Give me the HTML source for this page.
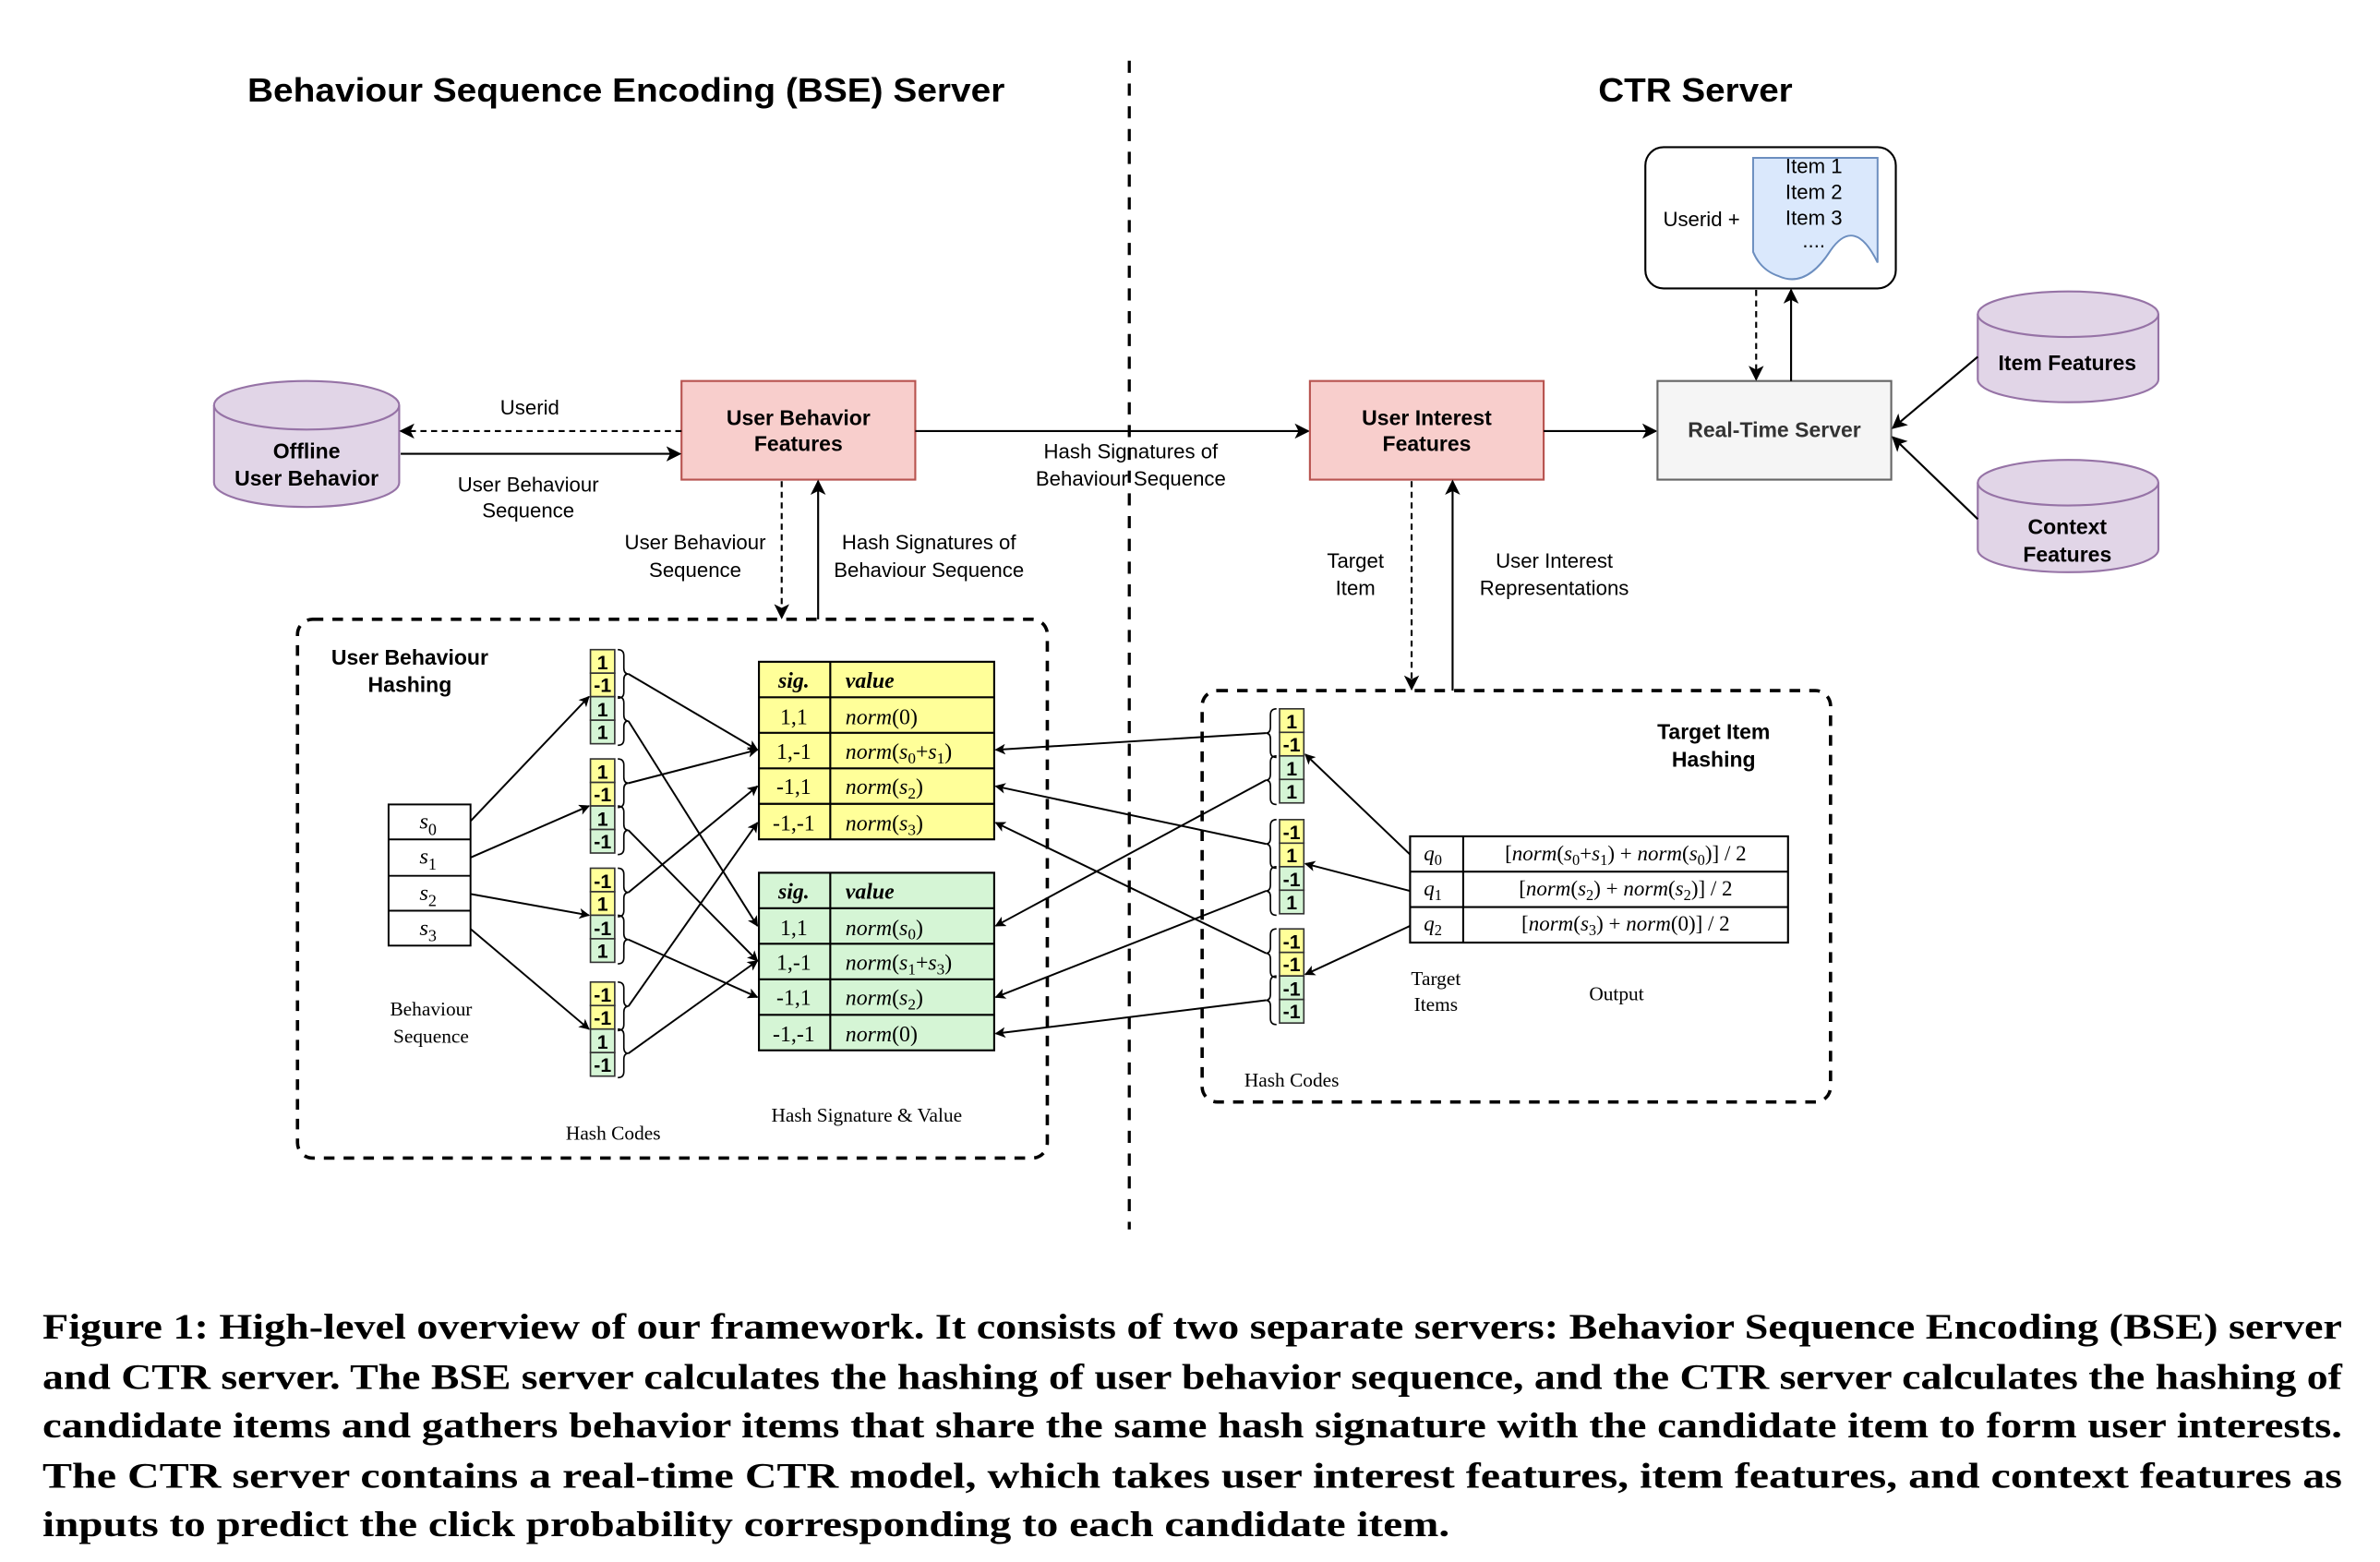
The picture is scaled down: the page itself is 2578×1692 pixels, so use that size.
<!DOCTYPE html>
<html><head><meta charset="utf-8"><style>html,body{margin:0;padding:0;background:#fff}svg{display:block}</style></head>
<body>
<svg width="2578" height="1692" viewBox="0 0 1568 1029.1" xmlns="http://www.w3.org/2000/svg" font-family="Liberation Sans, sans-serif">
<defs>
<marker id="a" viewBox="0 0 10 10" refX="9" refY="5" markerWidth="7" markerHeight="7" orient="auto" markerUnits="userSpaceOnUse"><path d="M0,0 L10,5 L0,10 L2.5,5 Z" fill="#000"/></marker>
<marker id="b" viewBox="0 0 10 10" refX="9" refY="5" markerWidth="10" markerHeight="10" orient="auto" markerUnits="userSpaceOnUse"><path d="M0,0 L10,5 L0,10 L2.5,5 Z" fill="#000"/></marker>
</defs>
<rect width="1568" height="1030" fill="#fff"/>

<!-- titles -->
<text x="163" y="67" font-size="22" font-weight="bold" textLength="499" lengthAdjust="spacingAndGlyphs">Behaviour Sequence Encoding (BSE) Server</text>
<text x="1053" y="67" font-size="22" font-weight="bold" textLength="128" lengthAdjust="spacingAndGlyphs">CTR Server</text>
<line x1="744" y1="40" x2="744" y2="810" stroke="#000" stroke-width="2" stroke-dasharray="8,7"/>

<!-- Offline cylinder -->
<path d="M141,267 A61,16 0 0 1 263,267 L263,318 A61,16 0 0 1 141,318 Z" fill="#e1d5e7" stroke="#9673a6" stroke-width="1.3"/>
<path d="M141,267 A61,16 0 0 0 263,267" fill="none" stroke="#9673a6" stroke-width="1.3"/>
<text x="202" y="302" font-size="14" font-weight="bold" text-anchor="middle">Offline</text>
<text x="202" y="320" font-size="14" font-weight="bold" text-anchor="middle">User Behavior</text>

<!-- UBF box -->
<rect x="449" y="251" width="154" height="65" fill="#f8cecc" stroke="#b85450" stroke-width="1.3"/>
<text x="526" y="280" font-size="14" font-weight="bold" text-anchor="middle">User Behavior</text>
<text x="526" y="297" font-size="14" font-weight="bold" text-anchor="middle">Features</text>

<line x1="449" y1="284" x2="264" y2="284" stroke="#000" stroke-width="1.3" stroke-dasharray="4,3" marker-end="url(#b)"/>
<text x="349" y="273" font-size="13.5" text-anchor="middle">Userid</text>
<line x1="264" y1="299" x2="448" y2="299" stroke="#000" stroke-width="1.3" marker-end="url(#b)"/>
<text x="348" y="324" font-size="13.5" text-anchor="middle">User Behaviour</text>
<text x="348" y="341" font-size="13.5" text-anchor="middle">Sequence</text>

<line x1="603" y1="284" x2="862" y2="284" stroke="#000" stroke-width="1.3" marker-end="url(#b)"/>
<text x="745" y="302" font-size="13.5" text-anchor="middle">Hash Signatures of</text>
<text x="745" y="320" font-size="13.5" text-anchor="middle">Behaviour Sequence</text>

<line x1="515" y1="317" x2="515" y2="407" stroke="#000" stroke-width="1.3" stroke-dasharray="4,3" marker-end="url(#b)"/>
<line x1="539" y1="408" x2="539" y2="317" stroke="#000" stroke-width="1.3" marker-end="url(#b)"/>
<text x="458" y="362" font-size="13.5" text-anchor="middle">User Behaviour</text>
<text x="458" y="380" font-size="13.5" text-anchor="middle">Sequence</text>
<text x="612" y="362" font-size="13.5" text-anchor="middle">Hash Signatures of</text>
<text x="612" y="380" font-size="13.5" text-anchor="middle">Behaviour Sequence</text>

<!-- left dashed box -->
<rect x="196" y="408" width="494" height="355" rx="10" fill="none" stroke="#000" stroke-width="2.2" stroke-dasharray="7,6"/>
<text x="270" y="438" font-size="14" font-weight="bold" text-anchor="middle">User Behaviour</text>
<text x="270" y="456" font-size="14" font-weight="bold" text-anchor="middle">Hashing</text>

<!-- behaviour seq -->
<g font-family="Liberation Serif, serif" font-size="15" font-style="italic" text-anchor="middle">
<rect x="256" y="530" width="54" height="93" fill="#fff" stroke="#000" stroke-width="1.2"/>
<line x1="256" y1="553" x2="310" y2="553" stroke="#000" stroke-width="1.2"/>
<line x1="256" y1="577" x2="310" y2="577" stroke="#000" stroke-width="1.2"/>
<line x1="256" y1="600" x2="310" y2="600" stroke="#000" stroke-width="1.2"/>
<text x="282" y="546">s<tspan font-style="normal" font-size="11" dy="4">0</tspan></text>
<text x="282" y="569">s<tspan font-style="normal" font-size="11" dy="4">1</tspan></text>
<text x="282" y="593">s<tspan font-style="normal" font-size="11" dy="4">2</tspan></text>
<text x="282" y="616">s<tspan font-style="normal" font-size="11" dy="4">3</tspan></text>
</g>
<g font-family="Liberation Serif, serif" font-size="13" text-anchor="middle">
<text x="284" y="669">Behaviour</text>
<text x="284" y="687">Sequence</text>
<text x="404" y="751">Hash Codes</text>
<text x="571" y="739">Hash Signature &amp; Value</text>
<text x="851" y="716">Hash Codes</text>
<text x="946" y="649">Target</text>
<text x="946" y="666">Items</text>
<text x="1065" y="659">Output</text>
</g>

<!-- hash code columns: left -->
<g font-size="13" text-anchor="middle" stroke-width="1" font-weight="bold">
<rect x="389" y="428" width="16" height="15.5" fill="#ffff99" stroke="#333"/><text x="397" y="441">1</text>
<rect x="389" y="443.5" width="16" height="15.5" fill="#ffff99" stroke="#333"/><text x="397" y="456">-1</text>
<rect x="389" y="459" width="16" height="15.5" fill="#d5f5d5" stroke="#333"/><text x="397" y="472">1</text>
<rect x="389" y="474.5" width="16" height="15.5" fill="#d5f5d5" stroke="#333"/><text x="397" y="487">1</text>
<rect x="389" y="500" width="16" height="15.5" fill="#ffff99" stroke="#333"/><text x="397" y="513">1</text>
<rect x="389" y="515.5" width="16" height="15.5" fill="#ffff99" stroke="#333"/><text x="397" y="528">-1</text>
<rect x="389" y="531" width="16" height="15.5" fill="#d5f5d5" stroke="#333"/><text x="397" y="544">1</text>
<rect x="389" y="546.5" width="16" height="15.5" fill="#d5f5d5" stroke="#333"/><text x="397" y="559">-1</text>
<rect x="389" y="572" width="16" height="15.5" fill="#ffff99" stroke="#333"/><text x="397" y="585">-1</text>
<rect x="389" y="587.5" width="16" height="15.5" fill="#ffff99" stroke="#333"/><text x="397" y="600">1</text>
<rect x="389" y="603" width="16" height="15.5" fill="#d5f5d5" stroke="#333"/><text x="397" y="616">-1</text>
<rect x="389" y="618.5" width="16" height="15.5" fill="#d5f5d5" stroke="#333"/><text x="397" y="631">1</text>
<rect x="389" y="647" width="16" height="15.5" fill="#ffff99" stroke="#333"/><text x="397" y="660">-1</text>
<rect x="389" y="662.5" width="16" height="15.5" fill="#ffff99" stroke="#333"/><text x="397" y="675">-1</text>
<rect x="389" y="678" width="16" height="15.5" fill="#d5f5d5" stroke="#333"/><text x="397" y="691">1</text>
<rect x="389" y="693.5" width="16" height="15.5" fill="#d5f5d5" stroke="#333"/><text x="397" y="706">-1</text>
</g>
<g fill="none" stroke="#000" stroke-width="1">
<path d="M407,428 q4,0 4,4 v8 q0,4 3,4 q-3,0 -3,4 v8 q0,4 -4,4"/>
<path d="M407,459 q4,0 4,4 v8 q0,4 3,4 q-3,0 -3,4 v8 q0,4 -4,4"/>
<path d="M407,500 q4,0 4,4 v8 q0,4 3,4 q-3,0 -3,4 v8 q0,4 -4,4"/>
<path d="M407,531 q4,0 4,4 v8 q0,4 3,4 q-3,0 -3,4 v8 q0,4 -4,4"/>
<path d="M407,572 q4,0 4,4 v8 q0,4 3,4 q-3,0 -3,4 v8 q0,4 -4,4"/>
<path d="M407,603 q4,0 4,4 v8 q0,4 3,4 q-3,0 -3,4 v8 q0,4 -4,4"/>
<path d="M407,647 q4,0 4,4 v8 q0,4 3,4 q-3,0 -3,4 v8 q0,4 -4,4"/>
<path d="M407,678 q4,0 4,4 v8 q0,4 3,4 q-3,0 -3,4 v8 q0,4 -4,4"/>
</g>

<!-- yellow/green tables -->
<g font-family="Liberation Serif, serif" font-size="14.5" stroke-width="1.3">
<rect x="500" y="436" width="155" height="117" fill="#ffff99" stroke="#000"/>
<line x1="547" y1="436" x2="547" y2="553" stroke="#000"/>
<line x1="500" y1="459.4" x2="655" y2="459.4" stroke="#000"/>
<line x1="500" y1="482.8" x2="655" y2="482.8" stroke="#000"/>
<line x1="500" y1="506.2" x2="655" y2="506.2" stroke="#000"/>
<line x1="500" y1="529.6" x2="655" y2="529.6" stroke="#000"/>
<text x="523" y="453" font-weight="bold" font-style="italic" text-anchor="middle">sig.</text>
<text x="557" y="453" font-weight="bold" font-style="italic">value</text>
<text x="523" y="477" text-anchor="middle">1,1</text><text x="557" y="477"><tspan font-style="italic">norm</tspan>(0)</text>
<text x="523" y="500" text-anchor="middle">1,-1</text><text x="557" y="500"><tspan font-style="italic">norm</tspan>(<tspan font-style="italic">s</tspan><tspan font-size="10.5" dy="3">0</tspan><tspan dy="-3">+</tspan><tspan font-style="italic">s</tspan><tspan font-size="10.5" dy="3">1</tspan><tspan dy="-3">)</tspan></text>
<text x="523" y="523" text-anchor="middle">-1,1</text><text x="557" y="523"><tspan font-style="italic">norm</tspan>(<tspan font-style="italic">s</tspan><tspan font-size="10.5" dy="3">2</tspan><tspan dy="-3">)</tspan></text>
<text x="523" y="547" text-anchor="middle">-1,-1</text><text x="557" y="547"><tspan font-style="italic">norm</tspan>(<tspan font-style="italic">s</tspan><tspan font-size="10.5" dy="3">3</tspan><tspan dy="-3">)</tspan></text>

<rect x="500" y="575" width="155" height="117" fill="#d5f5d5" stroke="#000"/>
<line x1="547" y1="575" x2="547" y2="692" stroke="#000"/>
<line x1="500" y1="598.4" x2="655" y2="598.4" stroke="#000"/>
<line x1="500" y1="621.8" x2="655" y2="621.8" stroke="#000"/>
<line x1="500" y1="645.2" x2="655" y2="645.2" stroke="#000"/>
<line x1="500" y1="668.6" x2="655" y2="668.6" stroke="#000"/>
<text x="523" y="592" font-weight="bold" font-style="italic" text-anchor="middle">sig.</text>
<text x="557" y="592" font-weight="bold" font-style="italic">value</text>
<text x="523" y="616" text-anchor="middle">1,1</text><text x="557" y="616"><tspan font-style="italic">norm</tspan>(<tspan font-style="italic">s</tspan><tspan font-size="10.5" dy="3">0</tspan><tspan dy="-3">)</tspan></text>
<text x="523" y="639" text-anchor="middle">1,-1</text><text x="557" y="639"><tspan font-style="italic">norm</tspan>(<tspan font-style="italic">s</tspan><tspan font-size="10.5" dy="3">1</tspan><tspan dy="-3">+</tspan><tspan font-style="italic">s</tspan><tspan font-size="10.5" dy="3">3</tspan><tspan dy="-3">)</tspan></text>
<text x="523" y="662" text-anchor="middle">-1,1</text><text x="557" y="662"><tspan font-style="italic">norm</tspan>(<tspan font-style="italic">s</tspan><tspan font-size="10.5" dy="3">2</tspan><tspan dy="-3">)</tspan></text>
<text x="523" y="686" text-anchor="middle">-1,-1</text><text x="557" y="686"><tspan font-style="italic">norm</tspan>(0)</text>
</g>

<!-- left arrows -->
<g stroke="#000" stroke-width="1.2" marker-end="url(#a)">
<line x1="310" y1="541" x2="388" y2="459"/>
<line x1="310" y1="565" x2="388" y2="531"/>
<line x1="310" y1="589" x2="388" y2="603"/>
<line x1="310" y1="612" x2="388" y2="678"/>
<line x1="414" y1="444" x2="499" y2="494"/>
<line x1="414" y1="475" x2="499" y2="610"/>
<line x1="414" y1="516" x2="499" y2="494"/>
<line x1="414" y1="547" x2="499" y2="633"/>
<line x1="414" y1="588" x2="499" y2="518"/>
<line x1="414" y1="619" x2="499" y2="657"/>
<line x1="414" y1="663" x2="499" y2="542"/>
<line x1="414" y1="694" x2="499" y2="633"/>
</g>

<!-- right side top -->
<rect x="863" y="251" width="154" height="65" fill="#f8cecc" stroke="#b85450" stroke-width="1.3"/>
<text x="940" y="280" font-size="14" font-weight="bold" text-anchor="middle">User Interest</text>
<text x="940" y="297" font-size="14" font-weight="bold" text-anchor="middle">Features</text>
<line x1="1017" y1="284" x2="1091" y2="284" stroke="#000" stroke-width="1.3" marker-end="url(#b)"/>
<rect x="1092" y="251" width="154" height="65" fill="#f5f5f5" stroke="#666" stroke-width="1.3"/>
<text x="1169" y="288" font-size="14" font-weight="bold" fill="#333" text-anchor="middle">Real-Time Server</text>

<line x1="930" y1="317" x2="930" y2="454" stroke="#000" stroke-width="1.3" stroke-dasharray="4,3" marker-end="url(#b)"/>
<line x1="957" y1="455" x2="957" y2="317" stroke="#000" stroke-width="1.3" marker-end="url(#b)"/>
<text x="893" y="374" font-size="13.5" text-anchor="middle">Target</text>
<text x="893" y="392" font-size="13.5" text-anchor="middle">Item</text>
<text x="1024" y="374" font-size="13.5" text-anchor="middle">User Interest</text>
<text x="1024" y="392" font-size="13.5" text-anchor="middle">Representations</text>

<!-- CTR top box -->
<rect x="1084" y="97" width="165" height="93" rx="12" fill="#fff" stroke="#000" stroke-width="1.3"/>
<path d="M1155,104 H1237 V173 Q1222,142 1206,165 Q1190,190 1172,182 Q1160,178 1155,166 Z" fill="#dae8fc" stroke="#6c8ebf" stroke-width="1.2"/>
<text x="1121" y="149" font-size="13.5" text-anchor="middle">Userid +</text>
<text x="1195" y="114" font-size="13.5" text-anchor="middle">Item 1</text>
<text x="1195" y="131" font-size="13.5" text-anchor="middle">Item 2</text>
<text x="1195" y="148" font-size="13.5" text-anchor="middle">Item 3</text>
<text x="1195" y="163" font-size="13.5" text-anchor="middle">....</text>
<line x1="1157" y1="191" x2="1157" y2="250" stroke="#000" stroke-width="1.3" stroke-dasharray="4,3" marker-end="url(#b)"/>
<line x1="1180" y1="251" x2="1180" y2="191" stroke="#000" stroke-width="1.3" marker-end="url(#b)"/>

<!-- cylinders -->
<path d="M1303,207 A59.5,15 0 0 1 1422,207 L1422,250 A59.5,15 0 0 1 1303,250 Z" fill="#e1d5e7" stroke="#9673a6" stroke-width="1.3"/>
<path d="M1303,207 A59.5,15 0 0 0 1422,207" fill="none" stroke="#9673a6" stroke-width="1.3"/>
<text x="1362" y="244" font-size="14" font-weight="bold" text-anchor="middle">Item Features</text>
<path d="M1303,318 A59.5,15 0 0 1 1422,318 L1422,362 A59.5,15 0 0 1 1303,362 Z" fill="#e1d5e7" stroke="#9673a6" stroke-width="1.3"/>
<path d="M1303,318 A59.5,15 0 0 0 1422,318" fill="none" stroke="#9673a6" stroke-width="1.3"/>
<text x="1362" y="352" font-size="14" font-weight="bold" text-anchor="middle">Context</text>
<text x="1362" y="370" font-size="14" font-weight="bold" text-anchor="middle">Features</text>
<line x1="1303" y1="235" x2="1247" y2="282" stroke="#000" stroke-width="1.3" marker-end="url(#b)"/>
<line x1="1303" y1="342" x2="1247" y2="288" stroke="#000" stroke-width="1.3" marker-end="url(#b)"/>

<!-- target dashed box -->
<rect x="792" y="455" width="414" height="271" rx="10" fill="none" stroke="#000" stroke-width="2.2" stroke-dasharray="7,6"/>
<text x="1129" y="487" font-size="14" font-weight="bold" text-anchor="middle">Target Item</text>
<text x="1129" y="505" font-size="14" font-weight="bold" text-anchor="middle">Hashing</text>

<g font-size="13" text-anchor="middle" stroke-width="1" font-weight="bold">
<rect x="843" y="467" width="16" height="15.5" fill="#ffff99" stroke="#333"/><text x="851" y="480">1</text>
<rect x="843" y="482.5" width="16" height="15.5" fill="#ffff99" stroke="#333"/><text x="851" y="495">-1</text>
<rect x="843" y="498" width="16" height="15.5" fill="#d5f5d5" stroke="#333"/><text x="851" y="511">1</text>
<rect x="843" y="513.5" width="16" height="15.5" fill="#d5f5d5" stroke="#333"/><text x="851" y="526">1</text>
<rect x="843" y="540" width="16" height="15.5" fill="#ffff99" stroke="#333"/><text x="851" y="553">-1</text>
<rect x="843" y="555.5" width="16" height="15.5" fill="#ffff99" stroke="#333"/><text x="851" y="568">1</text>
<rect x="843" y="571" width="16" height="15.5" fill="#d5f5d5" stroke="#333"/><text x="851" y="584">-1</text>
<rect x="843" y="586.5" width="16" height="15.5" fill="#d5f5d5" stroke="#333"/><text x="851" y="599">1</text>
<rect x="843" y="612" width="16" height="15.5" fill="#ffff99" stroke="#333"/><text x="851" y="625">-1</text>
<rect x="843" y="627.5" width="16" height="15.5" fill="#ffff99" stroke="#333"/><text x="851" y="640">-1</text>
<rect x="843" y="643" width="16" height="15.5" fill="#d5f5d5" stroke="#333"/><text x="851" y="656">-1</text>
<rect x="843" y="658.5" width="16" height="15.5" fill="#d5f5d5" stroke="#333"/><text x="851" y="671">-1</text>
</g>
<g fill="none" stroke="#000" stroke-width="1">
<path d="M841,467 q-4,0 -4,4 v8 q0,4 -3,4 q3,0 3,4 v8 q0,4 4,4"/>
<path d="M841,498 q-4,0 -4,4 v8 q0,4 -3,4 q3,0 3,4 v8 q0,4 4,4"/>
<path d="M841,540 q-4,0 -4,4 v8 q0,4 -3,4 q3,0 3,4 v8 q0,4 4,4"/>
<path d="M841,571 q-4,0 -4,4 v8 q0,4 -3,4 q3,0 3,4 v8 q0,4 4,4"/>
<path d="M841,612 q-4,0 -4,4 v8 q0,4 -3,4 q3,0 3,4 v8 q0,4 4,4"/>
<path d="M841,643 q-4,0 -4,4 v8 q0,4 -3,4 q3,0 3,4 v8 q0,4 4,4"/>
</g>

<!-- output table -->
<g font-family="Liberation Serif, serif" font-size="14" stroke-width="1.3">
<rect x="929" y="551" width="249" height="70" fill="#fff" stroke="#000"/>
<line x1="964" y1="551" x2="964" y2="621" stroke="#000"/>
<line x1="929" y1="574.3" x2="1178" y2="574.3" stroke="#000"/>
<line x1="929" y1="597.6" x2="1178" y2="597.6" stroke="#000"/>
<text x="944" y="567" text-anchor="middle"><tspan font-style="italic">q</tspan><tspan font-size="10" dy="3">0</tspan></text>
<text x="944" y="590" text-anchor="middle"><tspan font-style="italic">q</tspan><tspan font-size="10" dy="3">1</tspan></text>
<text x="944" y="613" text-anchor="middle"><tspan font-style="italic">q</tspan><tspan font-size="10" dy="3">2</tspan></text>
<text x="1071" y="567" text-anchor="middle">[<tspan font-style="italic">norm</tspan>(<tspan font-style="italic">s</tspan><tspan font-size="10" dy="3">0</tspan><tspan dy="-3">+</tspan><tspan font-style="italic">s</tspan><tspan font-size="10" dy="3">1</tspan><tspan dy="-3">) + </tspan><tspan font-style="italic">norm</tspan>(<tspan font-style="italic">s</tspan><tspan font-size="10" dy="3">0</tspan><tspan dy="-3">)] / 2</tspan></text>
<text x="1071" y="590" text-anchor="middle">[<tspan font-style="italic">norm</tspan>(<tspan font-style="italic">s</tspan><tspan font-size="10" dy="3">2</tspan><tspan dy="-3">) + </tspan><tspan font-style="italic">norm</tspan>(<tspan font-style="italic">s</tspan><tspan font-size="10" dy="3">2</tspan><tspan dy="-3">)] / 2</tspan></text>
<text x="1071" y="613" text-anchor="middle">[<tspan font-style="italic">norm</tspan>(<tspan font-style="italic">s</tspan><tspan font-size="10" dy="3">3</tspan><tspan dy="-3">) + </tspan><tspan font-style="italic">norm</tspan>(0)] / 2</text>
</g>

<!-- right arrows -->
<g stroke="#000" stroke-width="1.2" marker-end="url(#a)">
<line x1="929" y1="563" x2="860" y2="497"/>
<line x1="929" y1="587" x2="860" y2="569"/>
<line x1="929" y1="610" x2="860" y2="642"/>
<line x1="834" y1="483" x2="656" y2="494"/>
<line x1="834" y1="514" x2="656" y2="610"/>
<line x1="834" y1="556" x2="656" y2="518"/>
<line x1="834" y1="587" x2="656" y2="657"/>
<line x1="834" y1="628" x2="656" y2="542"/>
<line x1="834" y1="659" x2="656" y2="681"/>
</g>

<!-- caption -->
<g font-family="Liberation Serif, serif" font-size="24" font-weight="bold">
<text x="28" y="882" textLength="1515" lengthAdjust="spacingAndGlyphs">Figure 1: High-level overview of our framework. It consists of two separate servers: Behavior Sequence Encoding (BSE) server</text>
<text x="28" y="915" textLength="1515" lengthAdjust="spacingAndGlyphs">and CTR server. The BSE server calculates the hashing of user behavior sequence, and the CTR server calculates the hashing of</text>
<text x="28" y="947" textLength="1515" lengthAdjust="spacingAndGlyphs">candidate items and gathers behavior items that share the same hash signature with the candidate item to form user interests.</text>
<text x="28" y="980" textLength="1515" lengthAdjust="spacingAndGlyphs">The CTR server contains a real-time CTR model, which takes user interest features, item features, and context features as</text>
<text x="28" y="1012" textLength="927" lengthAdjust="spacingAndGlyphs">inputs to predict the click probability corresponding to each candidate item.</text>
</g>
</svg>
</body></html>
